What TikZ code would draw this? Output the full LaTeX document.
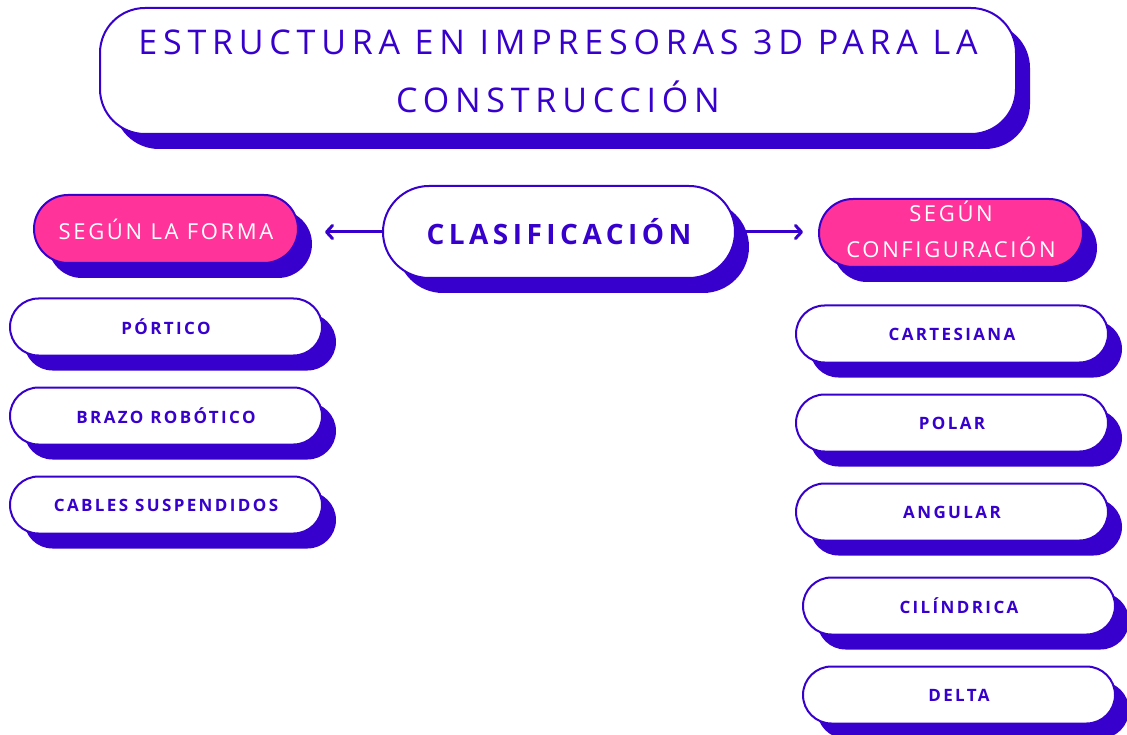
\documentclass[tikz,border=0pt]{standalone}
\usepackage{fontspec}
\setmainfont{Open Sans}
\newfontfamily\titulofont[LetterSpace=17]{Open Sans}
\newfontfamily\centrofont[LetterSpace=16]{Open Sans}
\newfontfamily\ramafont[LetterSpace=12]{Open Sans}
\newfontfamily\itemfont[LetterSpace=14]{Open Sans}
\usepackage{tikz}
\usetikzlibrary{positioning,shapes.misc,shadows,arrows.meta}
\definecolor{indigo}{HTML}{3700CC}
\definecolor{rosa}{HTML}{FF3399}

\begin{document}
\begin{tikzpicture}[x=1pt, y=-1pt,
			sombra/.style={drop shadow={shadow xshift=14pt, shadow yshift=-15pt, fill=indigo, opacity=1}},
			titulo/.style={rectangle, rounded corners=45pt, draw=indigo, line width=2pt, fill=white, sombra, minimum width=916pt, minimum height=126pt, align=center, text=indigo, font=\titulofont\fontsize{34}{58}\selectfont},
			centro/.style={rounded rectangle, draw=indigo, line width=2pt, fill=white, sombra, minimum width=352pt, minimum height=92pt, inner sep=0pt, text=indigo, font=\centrofont\bfseries\fontsize{28}{32}\selectfont},
			rama/.style={rounded rectangle, draw=indigo, line width=2pt, fill=rosa, sombra, minimum width=264pt, minimum height=68pt, inner sep=0pt, align=center, text=white, font=\ramafont\fontsize{22}{36}\selectfont},
			hoja/.style={rounded rectangle, draw=indigo, line width=2pt, fill=white, sombra, minimum width=312pt, minimum height=57pt, inner sep=0pt, text=indigo, font=\itemfont\bfseries\fontsize{17}{20}\selectfont},
			flecha/.style={draw=indigo, line width=3pt, line cap=round, -{Straight Barb[length=6pt, width=13pt, round]}},
		]
		\useasboundingbox (0,0) rectangle (1127,735);
		
			%Nodes
			\node[titulo]	(titulo)	at (558,71)		{ESTRUCTURA EN IMPRESORAS 3D PARA LA\\CONSTRUCCIÓN};
			\node[centro]	(clasif)	at (559,232)	{CLASIFICACIÓN};
			\node[rama]		(forma)		at (166,229)	{SEGÚN LA FORMA};
			\node[rama, text depth=8pt]	(config)	at (951,233)	{SEGÚN\\CONFIGURACIÓN};
		
			\node[hoja]	(portico)	at (166,327)					{PÓRTICO};
			\node[hoja]	(brazo)		[below=30pt of portico]			{BRAZO ROBÓTICO};
			\node[hoja]	(cables)	[below=30pt of brazo]			{CABLES SUSPENDIDOS};
		
			\node[hoja]	(cartesiana)	at (952,334)						{CARTESIANA};
			\node[hoja]	(polar)			[below=30pt of cartesiana]			{POLAR};
			\node[hoja]	(angular)		[below=30pt of polar]				{ANGULAR};
			\node[hoja]	(cilindrica)	[below=35pt of angular, xshift=7pt]	{CILÍNDRICA};
			\node[hoja]	(delta)			[below=30pt of cilindrica]			{DELTA};
		
			%Lines
			\draw[flecha, shorten >=26pt]	(clasif.west) -- (clasif.west -| forma.east);
			\draw[flecha, shorten >=15pt]	(clasif.east) -- (clasif.east -| config.west);
		
		\end{tikzpicture}
\end{document}
